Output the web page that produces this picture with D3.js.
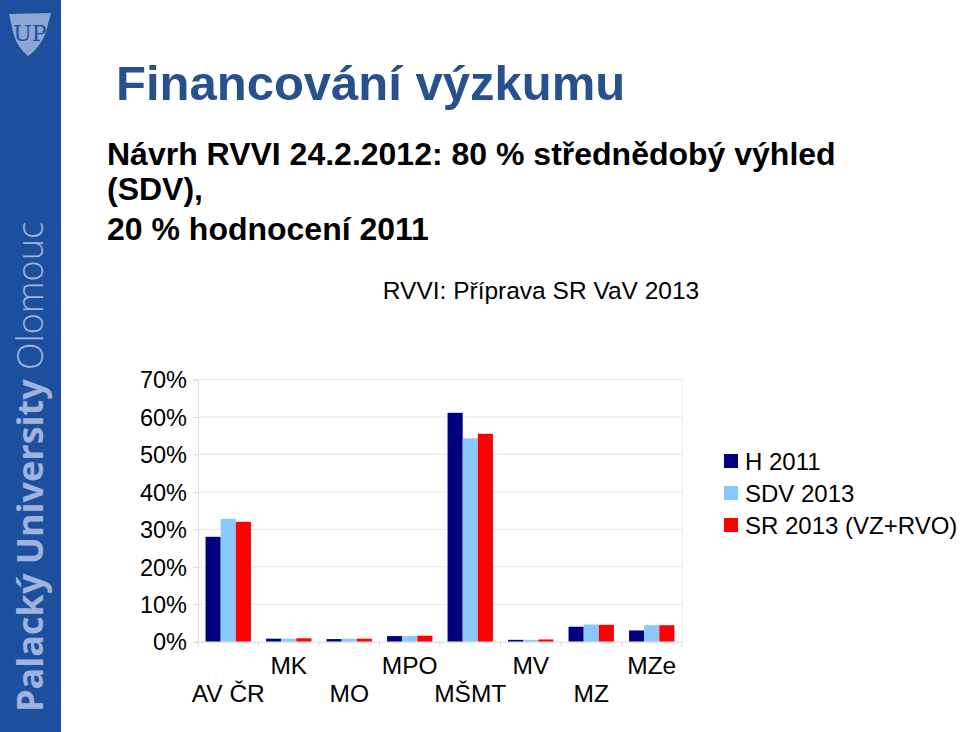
<!DOCTYPE html>
<html><head><meta charset="utf-8">
<script src="https://cdn.jsdelivr.net/npm/d3@7"></script>
<style>html,body{margin:0;padding:0;background:#fff;}svg{display:block;}</style>
</head><body>
<script>
const categories = ["AV ČR","MK","MO","MPO","MŠMT","MV","MZ","MZe"];
const seriesNames = ["H 2011","SDV 2013","SR 2013 (VZ+RVO)"];
const h2011 = [28.0, 0.8, 0.7, 1.5, 61.1, 0.5, 4.0, 3.0];
const sdv2013 = [32.8, 0.8, 0.8, 1.5, 54.3, 0.5, 4.6, 4.4];
const sr2013 = [32.0, 0.9, 0.8, 1.6, 55.5, 0.6, 4.5, 4.4];
const yTicks = [0,10,20,30,40,50,60,70];
const colors = ["#000080","#88c8fc","#ff0000"];

const W=960,H=732;
const svg=d3.select("body").append("svg").attr("width",W).attr("height",H);
const font="Liberation Sans, Arial, sans-serif";

// sidebar
svg.append("rect").attr("x",0).attr("y",0).attr("width",61).attr("height",H).attr("fill","#1d4f9f");
const logo=svg.append("g");
logo.append("path").attr("d","M9,14 L51,13 L46,32 Q40,48 28,56 Q16,46 13,32 Z").attr("fill","#8ea6d4");
logo.append("text").attr("x",30).attr("y",41).attr("text-anchor","middle").attr("font-family","DejaVu Serif, serif")
  .attr("font-size",22).attr("fill","#1d4f9f").text("UP");
const vt=svg.append("text").attr("transform","translate(43,712) rotate(-90)").attr("font-family","Open Sans, Liberation Sans, sans-serif")
  .attr("font-size",36).attr("fill","#9fb3dc");
vt.append("tspan").attr("font-weight","bold").text("Palacký University");
vt.append("tspan").attr("font-weight","300").text(" Olomouc");

// titles
svg.append("text").attr("x",116).attr("y",100).attr("font-family",font).attr("font-weight","bold")
  .attr("font-size",49).attr("fill","#28508e").text("Financování výzkumu");
const sub=["Návrh RVVI 24.2.2012: 80 % střednědobý výhled","(SDV),","20 % hodnocení 2011"];
const subY=[165,200,240];
sub.forEach((s,i)=>svg.append("text").attr("x",107).attr("y",subY[i]).attr("font-family",font)
  .attr("font-weight","bold").attr("font-size",32).attr("fill","#000").text(s));
svg.append("text").attr("x",541).attr("y",299).attr("text-anchor","middle").attr("font-family",font)
  .attr("font-size",24.5).attr("fill","#000").text("RVVI: Příprava SR VaV 2013");

// chart
const x0=d3.scaleBand().domain(categories).range([198,682]).paddingInner(0.25).paddingOuter(0.125);
const x1=d3.scaleBand().domain(seriesNames).range([0,x0.bandwidth()]);
const y=d3.scaleLinear().domain([0,70]).range([641.7,379.5]);

const g=svg.append("g");
g.selectAll("line.grid").data(yTicks.slice(1)).join("line").attr("class","grid")
  .attr("x1",198).attr("x2",682).attr("y1",d=>y(d)).attr("y2",d=>y(d)).attr("stroke","#e6e6e6").attr("stroke-width",1);
g.append("line").attr("x1",682).attr("x2",682).attr("y1",y(70)).attr("y2",y(0)).attr("stroke","#eeeeee");

const yAxis=d3.axisLeft(y).tickValues(yTicks).tickFormat(d=>d+"%").tickSize(5).tickPadding(6);
const ya=svg.append("g").attr("transform","translate(198,0)").call(yAxis);
ya.select(".domain").attr("stroke","#d9d9d9");
ya.selectAll(".tick line").attr("stroke","#d9d9d9");
ya.selectAll(".tick text").attr("font-family",font).attr("font-size",23.5).attr("fill","#000").attr("dy","0.35em");

const data=[h2011,sdv2013,sr2013];
categories.forEach((c,ci)=>{
  seriesNames.forEach((s,si)=>{
    g.append("rect").attr("x",x0(c)+x1(s)).attr("width",x1.bandwidth())
      .attr("y",y(data[si][ci])).attr("height",y(0)-y(data[si][ci])).attr("fill",colors[si]);
  });
});

// x axis
const bounds=d3.range(categories.length+1).map(i=>198+i*x0.step());
svg.append("line").attr("x1",198).attr("x2",682).attr("y1",y(0)+0.5).attr("y2",y(0)+0.5).attr("stroke","#d9d9d9");
svg.selectAll("line.xt").data(bounds).join("line").attr("class","xt").attr("x1",d=>d).attr("x2",d=>d)
  .attr("y1",y(0)).attr("y2",y(0)+5).attr("stroke","#d9d9d9");
categories.forEach((c,i)=>{
  svg.append("text").attr("x",x0(c)+x0.bandwidth()/2).attr("y",i%2?674:702).attr("text-anchor","middle")
    .attr("font-family",font).attr("font-size",24.5).attr("fill","#000").text(c);
});

// legend
seriesNames.forEach((s,i)=>{
  svg.append("rect").attr("x",724).attr("y",454+i*32).attr("width",14).attr("height",14).attr("fill",colors[i]);
  svg.append("text").attr("x",745).attr("y",470+i*32).attr("font-family",font).attr("font-size",24).attr("fill","#000").text(s);
});
</script>
</body></html>
